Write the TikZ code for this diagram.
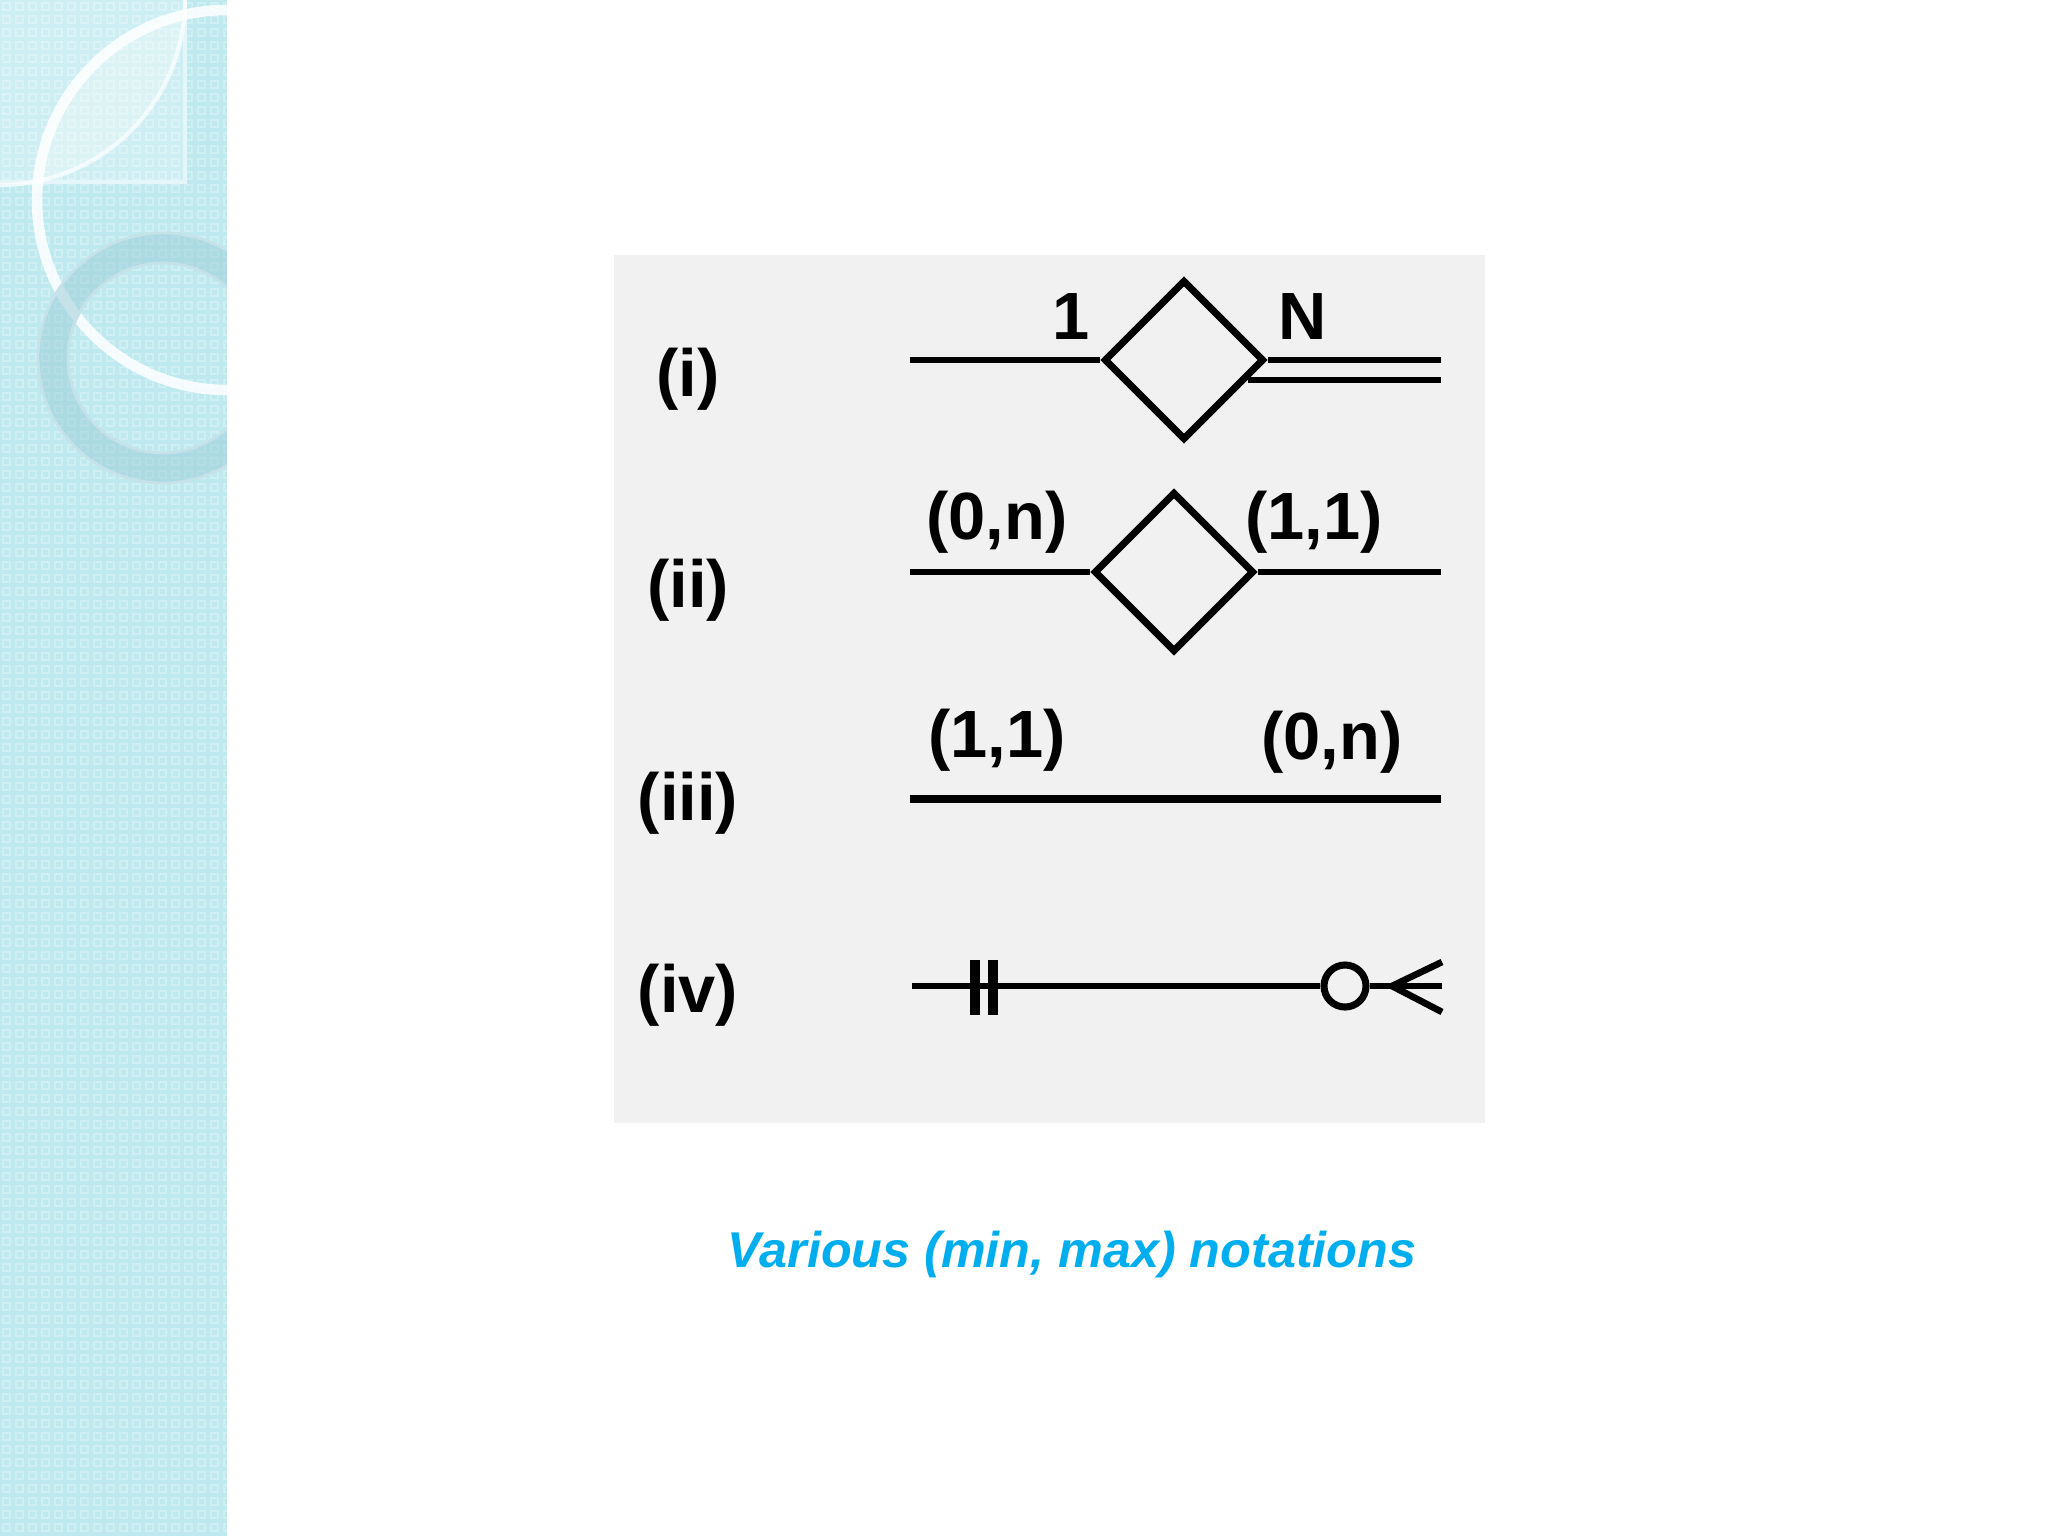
\documentclass[tikz,border=0pt]{standalone}
\usepackage{fontspec}
\setmainfont{Liberation Sans}
\usetikzlibrary{shapes.geometric,calc}
\definecolor{barcol}{HTML}{BDE9EF}
\definecolor{ringcol}{HTML}{9FCFDA}
\definecolor{capblue}{HTML}{00AEEF}
\definecolor{boxgrey}{HTML}{F1F1F1}
\begin{document}
\begin{tikzpicture}[x=0.01cm,y=-0.01cm,
  rel/.style={diamond, draw=black, line width=2pt, minimum size=1.6cm, inner sep=0pt, fill=boxgrey},
  conn/.style={line width=1.9pt, draw=black},
  thickconn/.style={line width=2.5pt, draw=black},
  card/.style={font=\bfseries\fontsize{19}{19}\selectfont, inner sep=0pt},
  rowlab/.style={font=\bfseries\fontsize{19}{19}\selectfont, inner sep=0pt},
  captext/.style={font=\bfseries\itshape\fontsize{14.3}{16}\selectfont, text=capblue, inner sep=0pt},
  optcircle/.style={circle, draw=black, line width=2pt, minimum size=0.42cm, inner sep=0pt, fill=boxgrey}]
\useasboundingbox (0,0) rectangle (2048,1536);
\fill[white] (0,0) rectangle (2048,1536);
% left decorative bar
\fill[barcol] (0,0) rectangle (227,1536);
\foreach \x in {0,13,...,221}{
  \foreach \y in {0,13,...,1530}{
    \draw[white, opacity=0.3, line width=0.5pt] (\x+3,\y+3) rectangle (\x+10,\y+10);
  }
}
\begin{scope}
  \clip (0,0) rectangle (227,1536);
  \fill[white, opacity=0.25] (0,0) rectangle (185,182);
  \draw[white!60!barcol, line width=1pt] (185,0) -- (185,182) -- (0,182);
  \begin{scope}
    \clip (0,0) circle (185);
    \fill[white, opacity=0.3] (227,200) circle (190);
  \end{scope}
  \draw[white, opacity=0.7, line width=1.2pt] (0,0) circle (185);
  \draw[white, opacity=0.85, line width=3pt] (227,200) circle (190);
  \fill[ringcol, opacity=0.55, even odd rule] (163,358) circle (125) (163,358) circle (95);
  \draw[white!40!ringcol, line width=0.8pt] (163,358) circle (125);
  \draw[white!40!ringcol, line width=0.8pt] (163,358) circle (95);
\end{scope}
% diagram panel
\fill[boxgrey] (614,255) rectangle (1485,1123);
% row labels
\node[rowlab] (ri) at (688,379) {(i)};
\node[rowlab] (rii) at (688,590) {(ii)};
\node[rowlab] (riii) at (688,803) {(iii)};
\node[rowlab] (riv) at (688,995) {(iv)};
% row (i)
\node[rel] (d1) at (1184,360) {};
\coordinate (a1) at (910,360);
\coordinate (b1) at (1441,360);
\coordinate (b1l) at (1441,380);
\draw[conn] (a1) -- (d1.west);
\draw[conn] (d1.east) -- (b1);
\draw[conn] ($(d1.east)+(-20,20)$) -- (b1l);
\node[card] (c1a) at (1071,317) {1};
\node[card] (c1b) at (1303,317) {N};
% row (ii)
\node[rel] (d2) at (1174,572) {};
\coordinate (a2) at (910,572);
\coordinate (b2) at (1441,572);
\draw[conn] (a2) -- (d2.west);
\draw[conn] (d2.east) -- (b2);
\node[card] (c2a) at (997,522) {(0,n)};
\node[card] (c2b) at (1314,522) {(1,1)};
% row (iii)
\coordinate (a3) at (910,799);
\coordinate (b3) at (1441,799);
\draw[thickconn] (a3) -- (b3);
\node[card] (c3a) at (997,740) {(1,1)};
\node[card] (c3b) at (1332,742) {(0,n)};
% row (iv)
\coordinate (a4) at (912,986);
\node[optcircle] (o4) at (1345,986) {};
\coordinate (apex) at (1392,986);
\coordinate (pt) at (1442,962);
\coordinate (pm) at (1442,986);
\coordinate (pb) at (1442,1012);
\coordinate (bar1t) at (975,960);
\coordinate (bar1b) at (975,1015);
\coordinate (bar2t) at (993,960);
\coordinate (bar2b) at (993,1015);
\draw[conn] (a4) -- (o4.west);
\draw[line width=2.6pt] (bar1t) -- (bar1b);
\draw[line width=2.6pt] (bar2t) -- (bar2b);
\draw[conn] (o4.east) -- (apex);
\draw[conn] (apex) -- (pt);
\draw[conn] (apex) -- (pm);
\draw[conn] (apex) -- (pb);
% caption
\node[captext] (cap) at (1072,1254) {Various (min, max) notations};
\end{tikzpicture}
\end{document}
